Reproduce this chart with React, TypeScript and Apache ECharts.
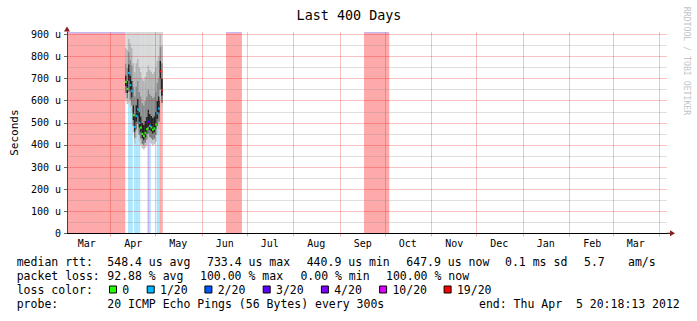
import React, { useEffect, useRef } from "react";
import * as echarts from "echarts";

const FONT = '"DejaVu Sans Mono", monospace';
const Y_MAX = 911;
const X_MAX = 400;

// x axis: days since start of the 400-day window (Mar 2 2011 20:18:13)
const monthStarts = [29.15, 59.15, 90.15, 120.15, 151.15, 182.15, 212.15, 243.15, 273.15, 304.15, 335.15, 364.15, 395.15];
const monthLabelDays = [13.15, 44.15, 74.15, 105.15, 135.15, 166.15, 197.15, 227.15, 258.15, 288.15, 319.15, 350.15, 379.15];
const monthNames = ["Mar", "Apr", "May", "Jun", "Jul", "Aug", "Sep", "Oct", "Nov", "Dec", "Jan", "Feb", "Mar"];
const yTicks = [0, 100, 200, 300, 400, 500, 600, 700, 800, 900];

// loss legend
const lossLabels = ["0", "1/20", "2/20", "3/20", "4/20", "10/20", "19/20"];
const lossColors = ["#26ff00", "#00b8ff", "#0059ff", "#5e00ff", "#7e00ff", "#dd00ff", "#ff0000"];
const lossBgColors = ["", "#aae6fc", "#aac4ff", "#c9b0ff", "#d4aaff", "#f2aaff", "#ffaaaa"];

// periods with 100% loss (day start, day end)
const fullLossStart = [0, 106, 198];
const fullLossEnd = [38.7, 116.5, 214.7];

// measured columns (one per day)
const smokeDays = [38.7, 39.7, 40.7, 41.7, 42.7, 43.7, 44.7, 45.7, 46.7, 47.7, 48.7, 49.7, 50.7, 51.7, 52.7, 53.7, 54.7, 55.7, 56.7, 57.7, 58.7, 59.7, 60.7, 61.7, 62.7];
const medianRtt = [686, 654, 726, 671, 644, 535, 482, 532, 561, 500, 479, 450, 440.9, 455, 472, 505, 487, 480, 469, 475, 493, 543, 565, 733.4, 647.9];
const lossIdx = [0, 0, 1, 1, 1, 0, 1, 1, 1, 1, 0, 0, 0, 0, 0, 3, 1, 0, 0, 0, 0, 1, 1, 6, 6];
const smokeLow0 = [600, 585, 590, 570, 545, 455, 405, 430, 455, 415, 400, 385, 380, 388, 398, 420, 410, 405, 398, 403, 415, 450, 470, 600, 560];
const smokeLow1 = [635, 610, 640, 605, 580, 485, 432, 470, 495, 445, 428, 405, 400, 410, 425, 450, 436, 430, 422, 428, 445, 485, 505, 650, 590];
const smokeLow2 = [665, 635, 690, 645, 615, 512, 460, 505, 530, 478, 457, 430, 422, 435, 452, 482, 466, 460, 450, 456, 472, 518, 542, 700, 622];
const smokeHi1 = [715, 690, 765, 715, 690, 580, 530, 580, 610, 550, 530, 500, 490, 510, 528, 560, 540, 532, 522, 530, 550, 600, 620, 780, 700];
const smokeHi2 = [770, 750, 820, 785, 760, 665, 620, 665, 690, 640, 620, 590, 580, 600, 620, 650, 630, 622, 612, 620, 640, 682, 700, 845, 770];
const smokeHi3 = [840, 830, 880, 860, 840, 770, 730, 770, 790, 750, 730, 700, 690, 710, 730, 760, 740, 732, 722, 730, 750, 782, 800, 900, 850];
const smokeColors = ["#c4c4c4", "#7a7a7a", "#202020", "#8a8a8a", "#b4b4b4", "#d8d8d8"];

// text rows
const statsLine1 = ["median rtt:", "548.4 us avg", "733.4 us max", "440.9 us min", "647.9 us now", "0.1 ms sd", "5.7", "am/s"];
const statsLine2 = ["packet loss:", "92.88 % avg", "100.00 % max", "0.00 % min", "100.00 % now"];
const probeLine = ["probe:", "20 ICMP Echo Pings (56 Bytes) every 300s", "end: Thu Apr  5 20:18:13 2012"];

// layout
const line1X = [16.7, 107.3, 207, 306.7, 406.3, 505, 584, 628];
const line2X = [16.7, 107.3, 200, 300.4, 386];
const boxX = [109, 146.7, 204.4, 262.7, 320.9, 379.1, 443.6];
const line4X = [16.7, 107.3, 479];
const rowY = [261.5, 275.5, 289.5, 303.5];

export default function App() {
  const ref = useRef<HTMLDivElement>(null);
  useEffect(() => {
    const chart = echarts.init(ref.current!, null, { renderer: "svg" });

    const lossData: number[][] = [];
    fullLossStart.forEach((s, i) => lossData.push([s, fullLossEnd[i], 6, 1]));
    smokeDays.forEach((d, i) => {
      if (lossIdx[i] > 0) lossData.push([d, d + 1, lossIdx[i], 0]);
    });
    const smokeData = smokeDays.map((d, i) => [d, smokeLow0[i], smokeLow1[i], smokeLow2[i], smokeHi1[i], smokeHi2[i], smokeHi3[i]]);
    const medianData = smokeDays.map((d, i) => [d, medianRtt[i], lossIdx[i]]);

    const option: any = {
      animation: false,
      textStyle: { fontFamily: FONT },
      grid: { left: 67, top: 32, width: 600, height: 201.3, containLabel: false, outerBoundsMode: "none" },
      xAxis: {
        type: "value",
        min: 0,
        max: X_MAX,
        z: 10,
        axisLine: { show: true, onZero: false, lineStyle: { color: "#000", width: 1 } },
        axisTick: { show: true, customValues: monthStarts, length: 3, lineStyle: { color: "rgba(200,0,0,0.35)" } },
        axisLabel: {
          customValues: monthLabelDays,
          fontFamily: FONT,
          fontSize: 10,
          color: "#000",
          margin: 5,
          formatter: (v: number) => {
            const i = monthLabelDays.findIndex((d) => Math.abs(d - v) < 0.01);
            return i >= 0 ? monthNames[i] : "";
          },
        },
        splitLine: { show: true, lineStyle: { color: "rgba(230,0,0,0.24)", width: 1 } },
      },
      yAxis: {
        type: "value",
        min: 0,
        max: Y_MAX,
        interval: 100,
        z: 10,
        name: "Seconds",
        nameLocation: "middle",
        nameGap: 47,
        nameRotate: 90,
        nameTextStyle: { fontFamily: FONT, fontSize: 11, color: "#000" },
        axisLine: { show: true, lineStyle: { color: "#444", width: 1 } },
        axisTick: { show: true, customValues: yTicks, length: 3, lineStyle: { color: "#666" } },
        axisLabel: {
          customValues: yTicks,
          fontFamily: FONT,
          fontSize: 10,
          color: "#000",
          margin: 6,
          formatter: (v: number) => (v === 0 ? "0" : `${v} u`),
        },
        splitLine: { show: true, lineStyle: { color: "rgba(230,0,0,0.24)", width: 1 } },
        minorTick: { show: false, splitNumber: 2 },
        minorSplitLine: { show: true, lineStyle: { color: "rgba(140,140,140,0.28)", width: 1 } },
      },
      series: [
        {
          type: "custom",
          z: 1,
          data: lossData,
          renderItem: (params: any, api: any) => {
            const p0 = api.coord([api.value(0), 0]);
            const p1 = api.coord([api.value(1), Y_MAX]);
            const lvl = api.value(2);
            const children: any[] = [
              {
                type: "rect",
                shape: { x: p0[0], y: p1[1], width: p1[0] - p0[0] + 0.2, height: p0[1] - p1[1] },
                style: { fill: lossBgColors[lvl] },
              },
            ];
            if (api.value(3) === 1) {
              children.push({
                type: "rect",
                shape: { x: p0[0], y: p1[1], width: p1[0] - p0[0], height: 1.4 },
                style: { fill: "#c9b8f0" },
              });
            }
            return { type: "group", children };
          },
        },
        {
          type: "custom",
          z: 2,
          data: smokeData,
          renderItem: (params: any, api: any) => {
            const d = api.value(0);
            const xa = api.coord([d, 0])[0];
            const xb = api.coord([d + 1, 0])[0];
            const vals = [api.value(1), api.value(2), api.value(3), api.value(4), api.value(5), api.value(6), Y_MAX];
            const children: any[] = [];
            for (let k = 0; k < 6; k++) {
              const ya = api.coord([d, vals[k]])[1];
              const yb = api.coord([d, vals[k + 1]])[1];
              children.push({
                type: "rect",
                shape: { x: xa, y: yb, width: xb - xa + 0.25, height: ya - yb },
                style: { fill: smokeColors[k] },
              });
            }
            return { type: "group", children };
          },
        },
        {
          type: "custom",
          z: 3,
          data: medianData,
          renderItem: (params: any, api: any) => {
            const d = api.value(0);
            const pa = api.coord([d, api.value(1)]);
            const xb = api.coord([d + 1, 0])[0];
            return {
              type: "rect",
              shape: { x: pa[0], y: pa[1] - 1, width: xb - pa[0] + 0.3, height: 2.2 },
              style: { fill: lossColors[api.value(2)] },
            };
          },
        },
      ],
    };
    chart.setOption(option);

    const x0 = chart.convertToPixel({ xAxisIndex: 0 }, 0) as number;
    const x1 = chart.convertToPixel({ xAxisIndex: 0 }, X_MAX) as number;
    const y0 = chart.convertToPixel({ yAxisIndex: 0 }, 0) as number;
    const y1 = chart.convertToPixel({ yAxisIndex: 0 }, Y_MAX) as number;

    const txt = (text: string, x: number, y: number, size = 11.5, extra: any = {}) => ({
      type: "text",
      x,
      y,
      z: 20,
      style: { text, font: `${size}px ${FONT}`, fill: "#000", align: "left", verticalAlign: "middle", ...extra },
    });

    const graphics: any[] = [];
    graphics.push(txt("Last 400 Days", 349, 15.5, 13.4, { align: "center" }));
    graphics.push({
      type: "text",
      x: 687,
      y: 61,
      rotation: -Math.PI / 2,
      z: 20,
      style: { text: "RRDTOOL / TOBI OETIKER", font: `8.2px ${FONT}`, fill: "#c4c4c4", align: "center", verticalAlign: "middle" },
    });
    statsLine1.forEach((s, i) => graphics.push(txt(s, line1X[i], rowY[0])));
    statsLine2.forEach((s, i) => graphics.push(txt(s, line2X[i], rowY[1])));
    graphics.push(txt("loss color:", 16.7, rowY[2]));
    lossLabels.forEach((s, i) => {
      graphics.push({
        type: "rect",
        z: 20,
        shape: { x: boxX[i] + 0.5, y: rowY[2] - 3.5, width: 7, height: 7 },
        style: { fill: lossColors[i], stroke: "#000", lineWidth: 1 },
      });
      graphics.push(txt(s, boxX[i] + 13.3, rowY[2]));
    });
    probeLine.forEach((s, i) => graphics.push(txt(s, line4X[i], rowY[3])));

    // axis arrows
    graphics.push({
      type: "line",
      z: 20,
      shape: { x1: x1, y1: y0, x2: x1 + 4, y2: y0 },
      style: { stroke: "#000", lineWidth: 1 },
    });
    graphics.push({
      type: "polygon",
      z: 20,
      shape: { points: [[x1 + 3, y0 - 3], [x1 + 3, y0 + 3], [x1 + 8, y0]] },
      style: { fill: "#8b1c1c" },
    });
    graphics.push({
      type: "polygon",
      z: 20,
      shape: { points: [[x0 - 3, y1 - 0.5], [x0 + 3, y1 - 0.5], [x0, y1 - 5.5]] },
      style: { fill: "#8b1c1c" },
    });

    chart.setOption({ graphic: graphics });
    return () => chart.dispose();
  }, []);
  return (
    <div
      ref={ref}
      style={{ position: "fixed", left: 0, top: 0, width: 697, height: 321, background: "#fff" }}
    />
  );
}
